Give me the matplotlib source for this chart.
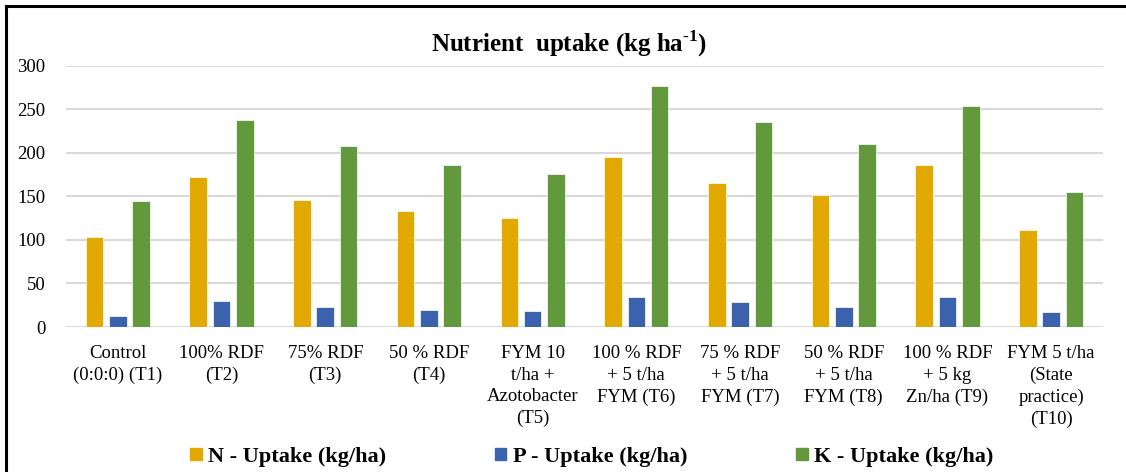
import matplotlib
matplotlib.use("Agg")
import matplotlib.pyplot as plt
from matplotlib.lines import Line2D
import numpy as np

categories = [
    "Control\n(0:0:0) (T1)",
    "100% RDF\n(T2)",
    "75% RDF\n(T3)",
    "50 % RDF\n(T4)",
    "FYM 10\nt/ha +\nAzotobacter\n(T5)",
    "100 % RDF\n+ 5 t/ha\nFYM (T6)",
    "75 % RDF\n+ 5 t/ha\nFYM (T7)",
    "50 % RDF\n+ 5 t/ha\nFYM (T8)",
    "100 % RDF\n+ 5 kg\nZn/ha (T9)",
    "FYM 5 t/ha\n(State\npractice)\n(T10)",
]
n_uptake = [103, 172, 146, 133, 125, 195, 165, 152, 186, 111]
p_uptake = [13, 29.5, 22.5, 20, 18.5, 34.5, 29, 23.5, 34.5, 17]
k_uptake = [144, 238, 208, 186, 175, 276, 235, 210, 253, 155]
series_names = ["N - Uptake (kg/ha)", "P - Uptake (kg/ha)", "K - Uptake (kg/ha)"]
colors = ["#E2AA00", "#3B63AD", "#63993D"]
yticks = [0, 50, 100, 150, 200, 250, 300]

plt.rcParams['font.family'] = ['Liberation Serif', 'DejaVu Serif']
plt.rcParams['mathtext.fontset'] = 'custom'
plt.rcParams['mathtext.rm'] = 'Liberation Serif:bold'

fig = plt.figure(figsize=(11.26, 4.72), dpi=100)
ax = fig.add_axes([66/1126, 1-327/472, (1103-66)/1126, (327-65.5)/472])

x = np.arange(len(categories))
w = 0.17
off = 0.225
for i, (vals, c, name) in enumerate(zip([n_uptake, p_uptake, k_uptake], colors, series_names)):
    ax.bar(x + (i-1)*off, vals, width=w, color=c, label=name, edgecolor='white', linewidth=0.5, zorder=3)

ax.set_xlim(-0.5, len(categories)-0.5)
ax.set_ylim(0, 300)
ax.set_yticks(yticks)
ax.set_yticklabels([str(t) for t in yticks], fontsize=13.5)
ax.set_xticks(x)
ax.set_xticklabels(categories, fontsize=13.5, linespacing=1.35, va='top')
ax.tick_params(axis='both', length=0)
ax.tick_params(axis='y', pad=15)
ax.tick_params(axis='x', pad=13)
ax.grid(axis='y', color='#D9D9D9', linewidth=1.5, zorder=0)
for s in ax.spines.values():
    s.set_visible(False)

fig.text(569/1126, 1-52/472, r"Nutrient  uptake (kg ha$^{\text{-1}}$)", ha='center', va='baseline',
         fontsize=18, fontweight='bold')

handles = [plt.Rectangle((0, 0), 1, 1, color=c) for c in colors]
fig.legend(handles, series_names, loc='center', bbox_to_anchor=(592/1126, 1-457/472), ncol=3,
           frameon=False, prop={'size': 16, 'weight': 'bold'}, handlelength=0.5, handleheight=0.5,
           handletextpad=0.3, columnspacing=4.9)

# outer frame (top and left)
fig.add_artist(Line2D([6/1126, 1], [1-6/472, 1-6/472], color='black', linewidth=2.2, transform=fig.transFigure))
fig.add_artist(Line2D([6/1126, 6/1126], [0, 1-6/472], color='black', linewidth=2.2, transform=fig.transFigure))

fig.savefig("out.png", dpi=100)
